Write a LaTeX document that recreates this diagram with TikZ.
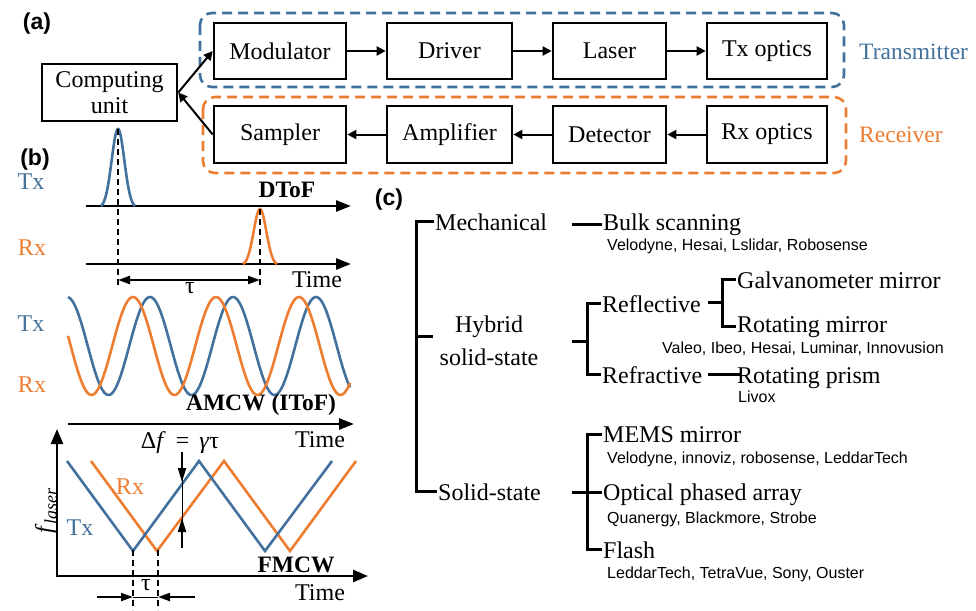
\documentclass[tikz,border=0pt]{standalone}
\usepackage{fontspec}
\setmainfont{Liberation Serif}
\setsansfont{Liberation Sans}
\usetikzlibrary{arrows.meta}
\definecolor{txblue}{RGB}{65,113,156}
\definecolor{rxorange}{RGB}{237,125,49}
\newcommand{\fsz}[1]{\fontsize{#1}{#1}\selectfont}
\tikzset{
 box/.style={draw, line width=2.6pt, inner sep=0pt, minimum height=56pt, font=\fsz{24}},
 grp/.style={line width=2.6pt, dash pattern=on 10pt off 6pt, rounded corners=12pt},
 conn/.style={line width=2pt, -{Triangle[length=9pt,width=9pt]}},
 lbl/.style={font=\sffamily\bfseries\fsz{23}, inner sep=0pt},
 txt/.style={font=\fsz{24}, inner sep=0pt},
 boldlbl/.style={font=\bfseries\fsz{23.5}, inner sep=0pt},
 ax/.style={line width=2.6pt, -{Triangle[length=15pt,width=11pt]}},
 pulse/.style={line width=2.6pt},
 wave/.style={line width=2.6pt},
 dsh/.style={line width=1.8pt, dash pattern=on 6pt off 4pt},
 dimarr/.style={line width=2pt, {Triangle[length=12pt,width=8pt]}-{Triangle[length=12pt,width=8pt]}},
 darr/.style={line width=2pt, -{Triangle[length=14pt,width=8pt]}},
 treeline/.style={line width=3pt},
 tr/.style={anchor=base west, inner sep=1pt, font=\fsz{24}},
 sm/.style={anchor=base west, inner sep=0pt, font=\sffamily\fsz{16}},
}
\begin{document}
\begin{tikzpicture}[x=1pt,y=-1pt]
\useasboundingbox (0,0) rectangle (976,610);

% ---------------- (a)
\node[lbl] (la) at (37,24) {(a)};
\draw[grp, txblue] (200,13) rectangle (844,87);
\draw[grp, rxorange] (203,97) rectangle (846,173);
\node[anchor=west, inner sep=0pt, text=txblue, font=\fsz{23.5}] (txl) at (859,52) {Transmitter};
\node[anchor=west, inner sep=0pt, text=rxorange, font=\fsz{23.5}] (rxl) at (859,135) {Receiver};

\node[box, minimum width=135pt, minimum height=57pt, align=center, font={\fontsize{24}{26}\selectfont}] (cu) at (109.5,92.5) {Computing\\unit};
\node[box, minimum width=132pt] (mod) at (280,51) {Modulator};
\node[box, minimum width=125pt] (drv) at (449.5,51) {Driver};
\node[box, minimum width=113pt] (las) at (609.5,51) {Laser};
\node[box, minimum width=120pt] (txo) at (767,51) {Tx optics};
\node[box, minimum width=132pt, minimum height=57pt] (smp) at (280,134.5) {Sampler};
\node[box, minimum width=125pt, minimum height=57pt] (amp) at (449.5,134.5) {Amplifier};
\node[box, minimum width=113pt, minimum height=57pt] (det) at (609.5,134.5) {Detector};
\node[box, minimum width=120pt, minimum height=57pt] (rxo) at (767,134.5) {Rx optics};

\draw[conn] (mod) -- (drv);
\draw[conn] (drv) -- (las);
\draw[conn] (las) -- (txo);
\draw[conn] (rxo) -- (det);
\draw[conn] (det) -- (amp);
\draw[conn] (amp) -- (smp);
\draw[conn] (cu.east) -- (mod.west);
\draw[conn] (smp.west) -- (cu.east);

% ---------------- (b) DToF
\node[lbl] (lb) at (35,160) {(b)};
\node[txt, text=txblue] (tx1) at (31,182) {Tx};
\node[txt, text=rxorange] (rx1) at (32,248) {Rx};
\coordinate (a1s) at (86,206); \coordinate (a1e) at (351,206);
\coordinate (a2s) at (86,264); \coordinate (a2e) at (351,264);
\draw[ax] (a1s) -- (a1e);
\draw[ax] (a2s) -- (a2e);
\draw[pulse, txblue] plot[domain=101:135, samples=90] (\x,{206-77*(exp(-(\x-118)*(\x-118)/80)-0.027)/0.973});
\draw[pulse, rxorange] plot[domain=243:277, samples=90] (\x,{264-55*(exp(-(\x-260)*(\x-260)/80)-0.027)/0.973});
\coordinate (txpk) at (118,129); \coordinate (txb) at (118,287);
\coordinate (rxpk) at (260,209); \coordinate (rxb) at (260,287);
\draw[dsh] (txpk) -- (txb);
\draw[dsh] (rxpk) -- (rxb);
\coordinate (t1l) at (118,280); \coordinate (t1r) at (260,280);
\draw[dimarr] (t1l) -- (t1r);
\node[txt] (tau1) at (190,288) {τ};
\node[boldlbl] (dtof) at (287,190) {DToF};
\node[txt] (time1) at (317,280) {Time};

% ---------------- AMCW
\node[txt, text=txblue] (tx2) at (31,324) {Tx};
\node[txt, text=rxorange] (rx2) at (32,385) {Rx};
\draw[wave, txblue] plot[domain=68:350, samples=200] (\x,{346-49*cos(4.3373*(\x-150))});
\draw[wave, rxorange] plot[domain=68:350, samples=200] (\x,{346-49*cos(4.3373*(\x-133))});
\coordinate (a3s) at (68,424); \coordinate (a3e) at (354,424);
\draw[ax] (a3s) -- (a3e);
\node[boldlbl] (amcw) at (261,405) {AMCW (IToF)};
\node[txt] (time2) at (320,440) {Time};

% ---------------- FMCW
\coordinate (yt) at (57,429); \coordinate (org) at (57,576); \coordinate (xt) at (368,576);
\draw[line width=2.6pt, {Triangle[length=15pt,width=12pt]}-{Triangle[length=15pt,width=12pt]}] (yt) -- (org) -- (xt);
\draw[wave, rxorange] (91,461) -- (157,551) -- (224,461) -- (290,551) -- (356,461);
\draw[wave, txblue] (67,461) -- (133,551) -- (199,461) -- (265,551) -- (332,461);
\node[txt, text=rxorange] (rx3) at (130,487) {Rx};
\node[txt, text=txblue] (tx3) at (80,528) {Tx};
\node[txt, rotate=90] (fl) at (46,511) {\textit{f}\raisebox{-5pt}{\fsz{18}\textit{laser}}};
\node[txt] (df) at (180,443) {Δ\textit{f}\, = \,\textit{γ}τ};
\coordinate (dft) at (182,452); \coordinate (dfb) at (182,548);
\coordinate (dftip) at (182,482); \coordinate (dfbip) at (182,518);
\draw[line width=1pt] (dft) -- (dfb);
\draw[darr] (dft) -- (dftip);
\draw[darr] (dfb) -- (dfbip);
\coordinate (v1t) at (133,550); \coordinate (v1b) at (133,610);
\coordinate (v2t) at (158,550); \coordinate (v2b) at (158,610);
\draw[dsh] (v1t) -- (v1b);
\draw[dsh] (v2t) -- (v2b);
\coordinate (tl0) at (97,597); \coordinate (tl1) at (133,597);
\coordinate (tr0) at (195,597); \coordinate (tr1) at (158,597);
\draw[line width=0.8pt] (tl1) -- (tr1);
\draw[line width=2pt, -{Triangle[length=12pt,width=8pt]}] (tl0) -- (tl1);
\draw[line width=2pt, -{Triangle[length=12pt,width=8pt]}] (tr0) -- (tr1);
\node[txt] (tau2) at (146,585) {τ};
\node[boldlbl] (fmcw) at (296,565) {FMCW};
\node[txt] (time3) at (320,593) {Time};

% ---------------- (c)
\node[lbl] (lc) at (389,200) {(c)};
\node[tr] (mech) at (434,230) {Mechanical};
\node[tr] (bulk) at (602,230) {Bulk scanning};
\node[sm] (co1) at (607,250) {Velodyne, Hesai, Lslidar, Robosense};
\node[txt, align=center, font={\fontsize{24}{33}\selectfont}] (hyb) at (489,341) {Hybrid\\solid-state};
\node[tr] (refl) at (601,312) {Reflective};
\node[tr] (refr) at (601,383) {Refractive};
\node[tr] (galv) at (736,288) {Galvanometer mirror};
\node[tr] (rotm) at (736,332) {Rotating mirror};
\node[sm] (co2) at (662,353) {Valeo, Ibeo, Hesai, Luminar, Innovusion};
\node[tr] (rotp) at (736,383) {Rotating prism};
\node[sm] (co3) at (738,402) {Livox};
\node[tr] (solid) at (437,500) {Solid-state};
\node[tr] (mems) at (602,442) {MEMS mirror};
\node[sm] (co4) at (607,463) {Velodyne, innoviz, robosense, LeddarTech};
\node[tr] (opa) at (602,500) {Optical phased array};
\node[sm] (co5) at (607,523) {Quanergy, Blackmore, Strobe};
\node[tr] (flash) at (602,558) {Flash};
\node[sm] (co6) at (607,578) {LeddarTech, TetraVue, Sony, Ouster};

\draw[treeline] (mech.west) -- ++(-18,0) |- (solid.west);
\coordinate (hybtick) at (416,336);
\draw[treeline] (hybtick) -- ++(17,0);
\draw[treeline] (bulk.west) -- ++(-30,0);
\draw[treeline] (refl.west) -- ++(-14,0) |- (refr.west);
\coordinate (hybstub) at (572,341);
\draw[treeline] (hybstub) -- ++(15,0);
\draw[treeline] (galv.west) -- ++(-14,0) |- (rotm.west);
\draw[treeline] ([xshift=6pt,yshift=1pt]refl.east) -- ++(14,0);
\draw[treeline] ([xshift=5pt]refr.east) -- ([xshift=5pt]refr.east -| rotp.west);
\draw[treeline] (mems.west) -- ++(-15,0) |- (flash.west);
\draw[treeline] ([yshift=2pt]opa.west) -- ++(-30,0);
\end{tikzpicture}
\end{document}
